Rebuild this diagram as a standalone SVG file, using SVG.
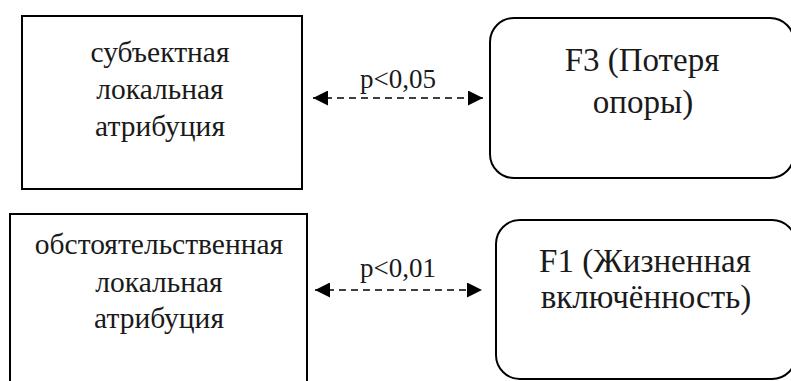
<svg xmlns="http://www.w3.org/2000/svg" width="791" height="381" viewBox="0 0 791 381">
<style>
.box{fill:#fff;stroke:#000;stroke-width:2}
.t{font-family:'Liberation Serif','Times New Roman',serif;font-size:29.5px;fill:#1a1a1a;text-anchor:middle}
.big{font-size:33px}
.lbl{font-family:'Liberation Serif','Times New Roman',serif;font-size:27px;fill:#1a1a1a;text-anchor:middle}
.con{stroke:#000;stroke-width:1.5;stroke-dasharray:7,5;fill:none}
</style>
<defs>
<marker id="ah" viewBox="0 0 10 10" refX="10" refY="5" markerUnits="userSpaceOnUse" markerWidth="15" markerHeight="15" orient="auto-start-reverse">
<path d="M0,0 L10,5 L0,10 z" fill="#000"/>
</marker>
</defs>
<rect width="791" height="381" fill="#fff"/>
<g id="n1">
<rect class="box" x="22" y="16" width="280" height="173"/>
<text class="t" x="160" y="62">субъектная</text>
<text class="t" x="160" y="99">локальная</text>
<text class="t" x="160" y="136">атрибуция</text>
</g>
<g id="n2">
<rect class="box" x="490" y="18" width="304" height="160" rx="24" ry="24"/>
<text class="t big" x="642" y="71">F3 (Потеря</text>
<text class="t big" x="643" y="113">опоры)</text>
</g>
<g id="n3">
<rect class="box" x="10" y="214" width="297" height="180"/>
<text class="t" x="159" y="254">обстоятельственная</text>
<text class="t" x="159" y="292">локальная</text>
<text class="t" x="159" y="328">атрибуция</text>
</g>
<g id="n4">
<rect class="box" x="496" y="220" width="300" height="159" rx="24" ry="24"/>
<text class="t big" x="645" y="272">F1 (Жизненная</text>
<text class="t big" x="646" y="308">включённость)</text>
</g>
<g id="connectors">
<line class="con" x1="313" y1="98" x2="483" y2="98" marker-start="url(#ah)" marker-end="url(#ah)"/>
<text class="lbl" x="398" y="88">p&lt;0,05</text>
<line class="con" x1="315" y1="290" x2="482" y2="290" marker-start="url(#ah)" marker-end="url(#ah)"/>
<text class="lbl" x="398" y="277">p&lt;0,01</text>
</g>
</svg>
